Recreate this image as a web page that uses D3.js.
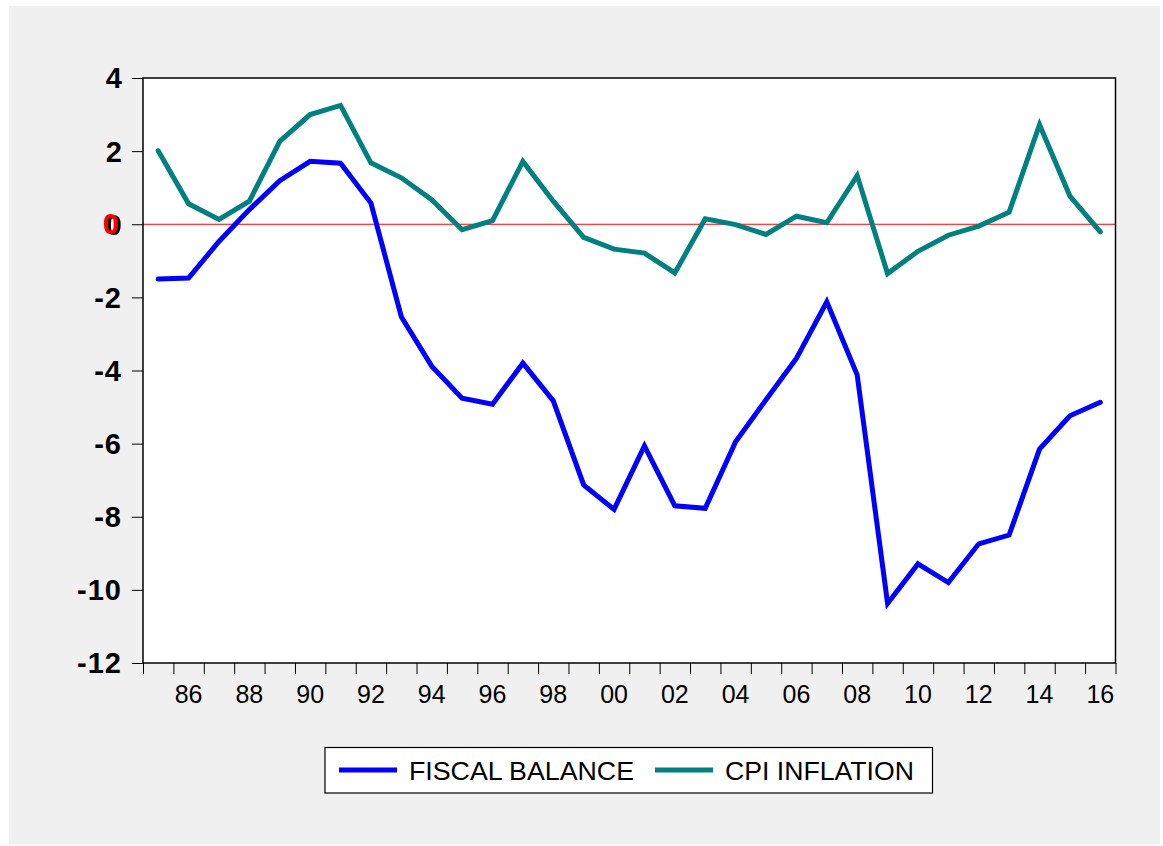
<!DOCTYPE html>
<html>
<head>
<meta charset="utf-8">
<script src="https://cdn.jsdelivr.net/npm/d3@7/dist/d3.min.js"></script>
<style>
  html, body { margin: 0; padding: 0; background: #ffffff; }
  svg { display: block; }
</style>
</head>
<body>
<svg id="chart" width="1163" height="846"></svg>
<script>
// ---- data ----
const years = d3.range(1985, 2017);
const fiscalBalance = [-1.50, -1.47, -0.47, 0.40, 1.19, 1.72, 1.67, 0.58, -2.53, -3.88,
  -4.76, -4.92, -3.80, -4.83, -7.13, -7.80, -6.06, -7.70, -7.77, -5.95,
  -4.80, -3.67, -2.12, -4.12, -10.37, -9.29, -9.80, -8.74, -8.50, -6.15,
  -5.24, -4.87];
const cpiInflation = [2.01, 0.56, 0.13, 0.63, 2.27, 3.00, 3.25, 1.68, 1.27, 0.67,
  -0.15, 0.10, 1.72, 0.63, -0.36, -0.68, -0.79, -1.33, 0.15, -0.01,
  -0.28, 0.22, 0.04, 1.33, -1.35, -0.74, -0.30, -0.05, 0.33, 2.72,
  0.77, -0.21];
const yTicks = [4, 2, 0, -2, -4, -6, -8, -10, -12];
const xLabelYears = [1986, 1988, 1990, 1992, 1994, 1996, 1998, 2000, 2002, 2004, 2006, 2008, 2010, 2012, 2014, 2016];
const seriesNames = ["FISCAL BALANCE", "CPI INFLATION"];
const seriesColors = ["#0000ff", "#008080"];

// ---- layout ----
const svg = d3.select("#chart");
const L = 143, R = 1115.5, T = 78, B = 663;

const defs = svg.append("defs");
const f = defs.append("filter").attr("id", "zshadow").attr("x", "-20%").attr("y", "-20%")
  .attr("width", "160%").attr("height", "160%");
f.append("feOffset").attr("in", "SourceAlpha").attr("dx", 3).attr("dy", 1).attr("result", "off");
f.append("feFlood").attr("flood-color", "#000").attr("result", "blk");
f.append("feComposite").attr("in", "blk").attr("in2", "off").attr("operator", "in").attr("result", "sh");
const fm = f.append("feMerge");
fm.append("feMergeNode").attr("in", "sh");
fm.append("feMergeNode").attr("in", "SourceGraphic");

svg.append("rect").attr("x", 9).attr("y", 6).attr("width", 1151).attr("height", 838)
  .attr("fill", "#f0f0f0");

svg.append("rect").attr("x", L).attr("y", T).attr("width", R - L).attr("height", B - T)
  .attr("fill", "#ffffff");

// each year occupies one interval between ticks
const x = d3.scaleLinear().domain([1985, 2017]).range([L, R]);
const xc = yr => x(yr + 0.5);
const y = d3.scaleLinear().domain([-12, 4]).range([B, T]);

// zero line
svg.append("line").attr("x1", L).attr("x2", R).attr("y1", y(0)).attr("y2", y(0))
  .attr("stroke", "#ff0000").attr("stroke-width", 1);

// y axis
const yAxis = d3.axisLeft(y).tickValues(yTicks).tickSize(11).tickFormat(d => "");
const gy = svg.append("g").attr("transform", `translate(${L},0)`).call(yAxis);
gy.select(".domain").remove();
gy.selectAll(".tick line").attr("stroke", "#000").attr("stroke-width", 1);

const ylab = svg.append("g");
yTicks.forEach(v => {
  const t = ylab.append("text").attr("y", y(v)).attr("dy", "0.36em")
    .attr("text-anchor", "end").attr("font-family", "Liberation Sans, Arial, sans-serif")
    .attr("font-weight", "bold").attr("font-size", 29);
  if (v === 0) {
    t.attr("x", 119).attr("y", y(v) - 1).attr("fill", "#ff0000")
      .attr("filter", "url(#zshadow)").text(v);
  } else {
    t.attr("x", 122).attr("fill", "#000").attr("letter-spacing", v < 0 ? 1 : 0)
      .text(v < 0 ? "-" + Math.abs(v) : v);
  }
});

// x axis ticks at every year boundary
const xAxis = d3.axisBottom(x).tickValues(d3.range(1985, 2018)).tickSize(11).tickFormat(() => "");
const gx = svg.append("g").attr("transform", `translate(0,${B})`).call(xAxis);
gx.select(".domain").remove();
gx.selectAll(".tick line").attr("stroke", "#000").attr("stroke-width", 1);

svg.append("g").selectAll("text").data(xLabelYears).join("text")
  .attr("x", d => xc(d)).attr("y", 703)
  .attr("text-anchor", "middle")
  .attr("font-family", "Liberation Sans, Arial, sans-serif")
  .attr("font-size", 25).attr("fill", "#000")
  .text(d => String(d % 100).padStart(2, "0"));

// lines
const line = d3.line().x((d, i) => xc(years[i])).y(d => y(d));
[fiscalBalance, cpiInflation].forEach((s, k) => {
  svg.append("path").datum(s).attr("d", line)
    .attr("fill", "none").attr("stroke", seriesColors[k])
    .attr("stroke-width", 5).attr("stroke-linejoin", "miter").attr("stroke-linecap", "round");
});

// frame
svg.append("rect").attr("x", L).attr("y", T).attr("width", R - L).attr("height", B - T)
  .attr("fill", "none").attr("stroke", "#000").attr("stroke-width", 1.5);

// legend
const lg = svg.append("g");
lg.append("rect").attr("x", 325).attr("y", 747.5).attr("width", 607.5).attr("height", 45.5)
  .attr("fill", "#ffffff").attr("stroke", "#000").attr("stroke-width", 1.2);
const legendItems = [
  { name: seriesNames[0], color: seriesColors[0], x1: 339, x2: 397, tx: 409, w: 225 },
  { name: seriesNames[1], color: seriesColors[1], x1: 655, x2: 713, tx: 725, w: 189 }
];
legendItems.forEach(it => {
  lg.append("line").attr("x1", it.x1).attr("x2", it.x2).attr("y1", 770).attr("y2", 770)
    .attr("stroke", it.color).attr("stroke-width", 5);
  lg.append("text").attr("x", it.tx).attr("y", 780)
    .attr("font-family", "Liberation Sans, Arial, sans-serif")
    .attr("font-size", 26).attr("fill", "#000")
    .attr("textLength", it.w).attr("lengthAdjust", "spacingAndGlyphs")
    .text(it.name);
});
</script>
</body>
</html>
